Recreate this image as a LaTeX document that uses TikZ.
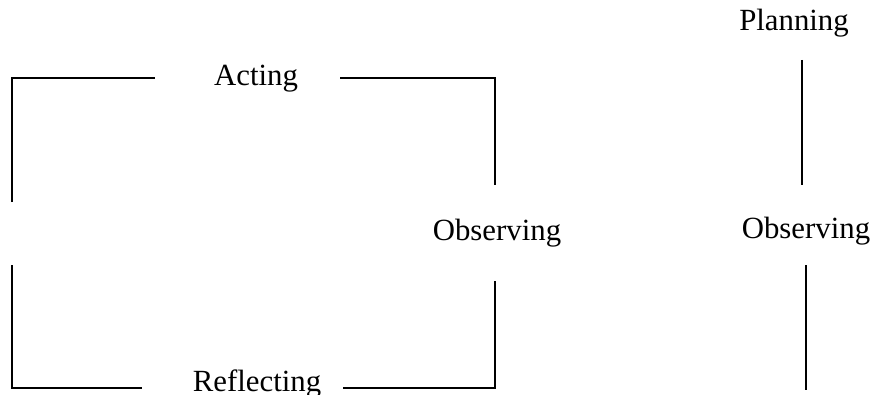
\documentclass[tikz,border=0pt]{standalone}
\usepackage{fontspec}
\setmainfont{Liberation Serif}
\usetikzlibrary{positioning}

\begin{document}
\begin{tikzpicture}[x=0.5pt,y=-0.5pt,
  stage/.style={anchor=base, inner sep=0pt, font=\fontsize{15.4}{18}\selectfont},
  link/.style={line width=1pt}]
\useasboundingbox (0,0) rectangle (876,395);
% cycle on the left
\node[stage] (acting) at (256,86) {Acting};
\node[stage] (obsmid) at (497,240) {Observing};
\node[stage] (reflect) at (257,391) {Reflecting};
% column on the right
\node[stage] (plan) at (794,31) {Planning};
\node[stage] (obsright) at (806,238) {Observing};

\coordinate (actL) at (155,78);
\coordinate (actR) at (340,78);
\coordinate (leftA) at (12,202);
\coordinate (leftB) at (12,265);
\coordinate (obsA) at (495,185);
\coordinate (obsB) at (495,281);
\coordinate (refL) at (142,388);
\coordinate (refR) at (343,388);
\coordinate (planA) at (802,60);
\coordinate (planB) at (802,185);
\coordinate (obsC) at (806,265);
\coordinate (obsD) at (806,390);

\draw[link] (leftA) |- (actL);
\draw[link] (actR) -| (obsA);
\draw[link] (leftB) |- (refL);
\draw[link] (refR) -| (obsB);
\draw[link] (planA) -- (planB);
\draw[link] (obsC) -- (obsD);
\end{tikzpicture}
\end{document}
